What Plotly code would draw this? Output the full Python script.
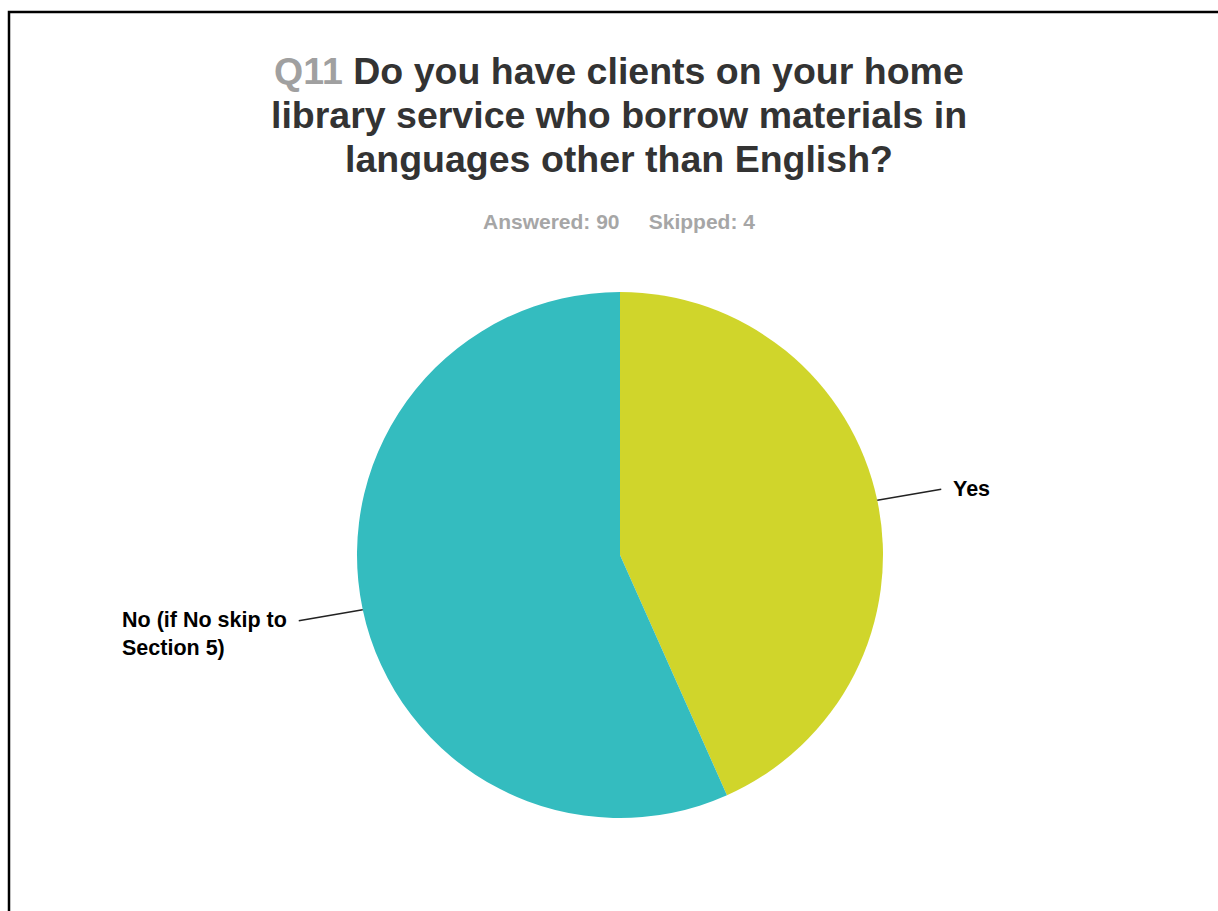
import math
import plotly.graph_objects as go

# Survey responses
categories = ["Yes", "No (if No skip to<br>Section 5)"]
responses = [39, 51]
slice_colors = ["#D0D52B", "#34BCBF"]

question_id = "Q11"
title_lines = [
    "Do you have clients on your home",
    "library service who borrow materials in",
    "languages other than English?",
]
answered = 90
skipped = 4

W, H = 1218, 911
FONT = "Liberation Sans, Arial, sans-serif"

# Pie placement in pixels
cx, cy, r = 620, 555, 263


def px(x):
    return x / W


def py(y):
    return 1 - y / H


fig = go.Figure(
    go.Pie(
        labels=categories,
        values=responses,
        marker=dict(colors=slice_colors, line=dict(width=0)),
        sort=False,
        direction="clockwise",
        rotation=0,
        textinfo="none",
        hoverinfo="label+percent",
        showlegend=False,
        domain=dict(x=[px(cx - r), px(cx + r)], y=[py(cy + r), py(cy - r)]),
    )
)

annotations = []
shapes = []

# Title lines
line_y = [71, 115, 159]
for i, (txt, yy) in enumerate(zip(title_lines, line_y)):
    if i == 0:
        txt = f"<span style='color:#A0A0A0'>{question_id}</span> " + txt
    annotations.append(dict(
        x=px(619), y=py(yy), xref="paper", yref="paper",
        text=f"<b>{txt}</b>", showarrow=False,
        xanchor="center", yanchor="middle",
        font=dict(family=FONT, size=37.5, color="#333333"),
    ))

annotations.append(dict(
    x=px(619), y=py(222), xref="paper", yref="paper",
    text=f"<b>Answered: {answered}&nbsp;&nbsp;&nbsp;&nbsp;&nbsp;Skipped: {skipped}</b>",
    showarrow=False, xanchor="center", yanchor="middle",
    font=dict(family=FONT, size=21, color="#A6A6A6"),
))

# Outside labels with leader lines from each slice's mid-angle
total = sum(responses)
start = 0.0
for label, v in zip(categories, responses):
    frac = v / total
    mid = (start + frac / 2) * 2 * math.pi
    start += frac
    sx = cx + r * math.sin(mid)
    sy = cy - r * math.cos(mid)
    side = 1 if math.sin(mid) >= 0 else -1
    ex = sx + side * 64
    ey = sy - 11 if side > 0 else sy + 11
    shapes.append(dict(
        type="line", xref="paper", yref="paper",
        x0=px(sx), y0=py(sy), x1=px(ex), y1=py(ey),
        line=dict(color="#222222", width=1.5),
    ))
    annotations.append(dict(
        x=px(ex + side * 10), y=py(ey + (0 if side > 0 else 13)),
        xref="paper", yref="paper",
        text=f"<b>{label}</b>", showarrow=False,
        xanchor="left" if side > 0 else "right",
        yanchor="middle", align="left",
        font=dict(family=FONT, size=21.5, color="#000000"),
    ))

# Frame around the chart area
shapes.append(dict(
    type="rect", xref="paper", yref="paper",
    x0=px(9), y0=py(12), x1=px(W + 20), y1=py(H + 20),
    line=dict(color="#000000", width=2.5), fillcolor="rgba(0,0,0,0)",
))

fig.update_layout(
    width=W, height=H,
    margin=dict(l=0, r=0, t=0, b=0),
    paper_bgcolor="white",
    plot_bgcolor="white",
    annotations=annotations,
    shapes=shapes,
)

fig.write_html("out.html")
